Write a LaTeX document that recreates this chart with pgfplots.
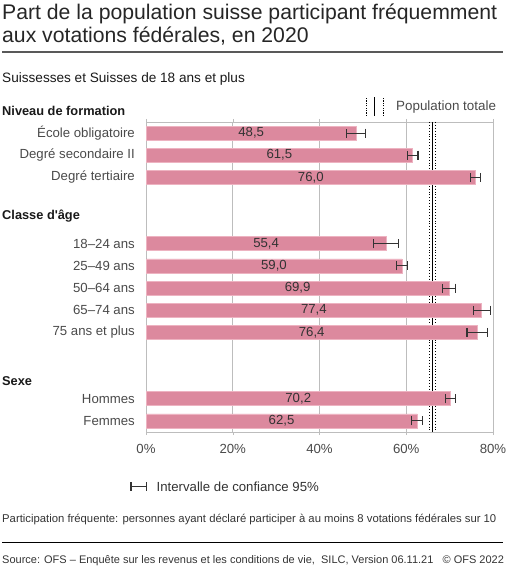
\documentclass[border=0pt]{standalone}
\usepackage{fontspec}
\setmainfont{Liberation Sans}
\usepackage{pgfplots}
\usepackage{pgfplotstable}
\pgfplotsset{compat=1.18}

\definecolor{barPink}{HTML}{DC899E}
\definecolor{barEdge}{HTML}{EDB3C1}
\definecolor{txt}{HTML}{333333}
\definecolor{tickTxt}{HTML}{4A4A4A}
\definecolor{gridGray}{HTML}{BDBDBD}

% row = position on the reversed y axis, err = half width of the 95% interval
\pgfplotstableread{
row val err
0  48.5 2.2
1  61.5 1.2
2  76.0 1.2
5  55.4 2.85
6  59.0 1.2
7  69.9 1.5
8  77.4 2.0
9  76.4 2.4
12 70.2 1.2
13 62.5 1.2
}\participation

\begin{document}
\begin{tikzpicture}[font=\fontsize{13.2}{15}\selectfont]
\useasboundingbox (0,0) rectangle (506pt,567pt);

% title block
\node[anchor=base west, inner sep=0pt, text=black!85, font=\fontsize{21.2}{24}\selectfont]
  at (2pt,547pt) {Part de la population suisse participant fréquemment};
\node[anchor=base west, inner sep=0pt, text=black!85, font=\fontsize{21.2}{24}\selectfont]
  at (2pt,524pt) {aux votations fédérales, en 2020};
\draw[black!65, line width=1.3pt] (2pt,515pt) -- (503pt,515pt);
\node[anchor=base west, inner sep=0pt, text=black!90, font=\fontsize{13.6}{15}\selectfont]
  at (2pt,484.5pt) {Suissesses et Suisses de 18 ans et plus};

\begin{axis}[
  at={(146pt,135pt)}, anchor=south west,
  scale only axis, width=347pt, height=310pt,
  xmin=0, xmax=80, ymin=-0.5, ymax=13.5,
  y dir=reverse,
  axis line style={gridGray},
  xtick={0,20,40,60,80},
  xticklabel={\pgfmathprintnumber{\tick}\%},
  xtick align=outside,
  major tick length=3pt,
  xtick style={gridGray},
  xmajorgrids, grid style={gridGray, line width=0.8pt},
  ytick={0,1,2,5,6,7,8,9,12,13},
  yticklabels={École obligatoire, Degré secondaire II, Degré tertiaire,
    18–24 ans, 25–49 ans, 50–64 ans, 65–74 ans, 75 ans et plus,
    Hommes, Femmes},
  ytick style={draw=none},
  y tick label style={text=tickTxt, inner sep=0pt, xshift=-11pt},
  x tick label style={text=tickTxt, yshift=-6pt},
  /pgf/number format/assume math mode=true,
  tick label style={font=\fontsize{13.2}{15}\selectfont},
  clip=false,
]
% population totale with its interval
\addplot[black, line width=0.9pt, forget plot] coordinates {(66.1,-0.5) (66.1,13.5)};
\addplot[black, line width=0.9pt, dotted, forget plot] coordinates {(65.4,-0.5) (65.4,13.5)};
\addplot[black, line width=0.9pt, dotted, forget plot] coordinates {(66.8,-0.5) (66.8,13.5)};

\addplot[xbar, bar width=14pt, bar shift=0pt, fill=barPink, draw=barEdge, line width=0.8pt,
  error bars/.cd, x dir=both, x explicit, error mark=|,
  error bar style={black!80, line width=1.1pt},
  error mark options={black!80, line width=1.1pt, mark size=4.5pt}]
  table[x=val, y=row, x error=err] {\participation};

% value labels in the middle of each bar
\addplot[only marks, mark=none, point meta=explicit,
  nodes near coords={\pgfmathprintnumber[use comma, fixed, fixed zerofill, precision=1]{\pgfplotspointmeta}},
  nodes near coords style={anchor=center, text=txt, font=\fontsize{13.2}{15}\selectfont, yshift=0pt}]
  table[x expr=\thisrow{val}/2, y=row, meta=val] {\participation};
\end{axis}

% group headings
\node[anchor=base west, inner sep=0pt, text=black!90, font=\fontsize{12.8}{15}\bfseries]
  at (2pt,451pt) {Niveau de formation};
\node[anchor=base west, inner sep=0pt, text=black!90, font=\fontsize{12.8}{15}\bfseries]
  at (2pt,347pt) {Classe d\textquotesingle âge};
\node[anchor=base west, inner sep=0pt, text=black!90, font=\fontsize{12.8}{15}\bfseries]
  at (2pt,181pt) {Sexe};

% legend: population totale
\draw[black, line width=1pt, dash pattern=on 1.2pt off 1.2pt] (366.7pt,451pt) -- (366.7pt,470pt);
\draw[black, line width=1.1pt] (374.7pt,451pt) -- (374.7pt,470pt);
\draw[black, line width=1pt, dash pattern=on 1.2pt off 1.2pt] (383.3pt,451pt) -- (383.3pt,470pt);
\node[anchor=base west, inner sep=0pt, text=tickTxt, font=\fontsize{13.4}{15}\selectfont] at (396pt,456.5pt) {Population totale};

% legend: confidence interval
\draw[black!80, line width=1.1pt] (131pt,80.5pt) -- (146.5pt,80.5pt);
\draw[black!80, line width=1.1pt] (131pt,76pt) -- (131pt,85pt);
\draw[black!80, line width=1.1pt] (146.5pt,76pt) -- (146.5pt,85pt);
\node[anchor=base west, inner sep=0pt, text=txt] at (156.5pt,75.5pt) {Intervalle de confiance 95\%};

% notes and source
\node[anchor=base west, inner sep=0pt, text=txt, font=\fontsize{11.3}{13}\selectfont]
  at (2pt,44.5pt) {Participation fréquente: personnes ayant déclaré participer à au moins 8 votations fédérales sur 10};
\draw[black, line width=1pt] (2pt,24.5pt) -- (503pt,24.5pt);
\node[anchor=base west, inner sep=0pt, text=txt, font=\fontsize{11}{13}\selectfont]
  at (2pt,3.5pt) {Source: OFS – Enquête sur les revenus et les conditions de vie,\ \ SILC, Version 06.11.21\ \ \ © OFS 2022};
\end{tikzpicture}
\end{document}
